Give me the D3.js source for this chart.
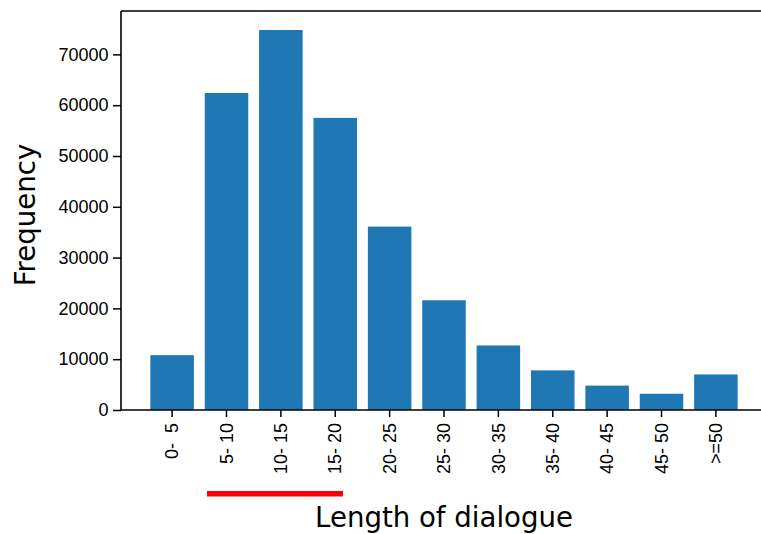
<!DOCTYPE html>
<html>
<head>
<meta charset="utf-8">
<script src="https://cdn.jsdelivr.net/npm/d3@7"></script>
<style>
  body { margin: 0; background: #fff; }
  svg { font-family: "DejaVu Sans", sans-serif; }
  .tick text { fill: #000; }
</style>
</head>
<body>
<div id="chart"></div>
<script>
// bins of dialogue length and how many dialogues fall in each
const categories = [' 0-  5', ' 5- 10', '10- 15', '15- 20', '20- 25', '25- 30',
  '30- 35', '35- 40', '40- 45', '45- 50', '>=50'];
const counts = [10800, 62400, 74800, 57500, 36100, 21600, 12700, 7800, 4800, 3200, 7000];
const yTicks = [0, 10000, 20000, 30000, 40000, 50000, 60000, 70000];

const width = 761, height = 534;
const margin = { top: 11, right: -6, bottom: 124, left: 121 };
const innerW = width - margin.left - margin.right;
const innerH = height - margin.top - margin.bottom;

const svg = d3.select('#chart').append('svg')
  .attr('width', width)
  .attr('height', height);

const g = svg.append('g')
  .attr('transform', `translate(${margin.left},${margin.top})`);

const x = d3.scaleBand()
  .domain(categories)
  .range([0, innerW])
  .paddingInner(0.2)
  .paddingOuter(0.54);

const y = d3.scaleLinear()
  .domain([0, d3.max(counts) * 1.05])
  .range([innerH, 0]);

// bars
g.selectAll('.bar')
  .data(categories.map((c, i) => ({ cat: c, count: counts[i] })))
  .enter().append('rect')
  .attr('class', 'bar')
  .attr('x', d => x(d.cat))
  .attr('y', d => y(d.count))
  .attr('width', x.bandwidth())
  .attr('height', d => innerH - y(d.count))
  .style('fill', '#1f77b4');

// axes
const yAxis = d3.axisLeft(y).tickValues(yTicks).tickFormat(d3.format('d'))
  .tickSize(8).tickPadding(4.5);
g.append('g').attr('class', 'yAxis').call(yAxis)
  .call(s => s.select('.domain').remove())
  .call(s => s.selectAll('text').style('font-size', '18px'))
  .call(s => s.selectAll('line').attr('stroke', '#000').attr('stroke-width', 1.5));

const xAxis = d3.axisBottom(x).tickSize(7);
g.append('g').attr('class', 'xAxis')
  .attr('transform', `translate(0,${innerH})`)
  .call(xAxis)
  .call(s => s.select('.domain').remove())
  .call(s => s.selectAll('line').attr('stroke', '#000').attr('stroke-width', 1.5))
  .call(s => s.selectAll('text')
    .style('font-size', '18px')
    .style('white-space', 'pre')
    .attr('text-anchor', 'end')
    .attr('transform', 'rotate(-90)')
    .attr('x', -13)
    .attr('y', 0)
    .attr('dy', '0.34em'));

// spines (left, top, bottom; right one falls outside the window)
const spine = g.append('g').attr('stroke', '#000').attr('stroke-width', 1.6).attr('fill', 'none');
spine.append('line').attr('x1', 0).attr('x2', 0).attr('y1', 0).attr('y2', innerH);
spine.append('line').attr('x1', 0).attr('x2', innerW).attr('y1', 0).attr('y2', 0);
spine.append('line').attr('x1', 0).attr('x2', innerW).attr('y1', innerH).attr('y2', innerH);

// axis labels
svg.append('text')
  .attr('transform', `translate(35,215) rotate(-90)`)
  .attr('text-anchor', 'middle')
  .style('font-size', '27.6px')
  .style('fill', '#000')
  .text('Frequency');

svg.append('text')
  .attr('x', margin.left + innerW / 2)
  .attr('y', 527)
  .attr('text-anchor', 'middle')
  .style('font-size', '27.6px')
  .style('fill', '#000')
  .text('Length of dialogue');

// red underline annotation below the 5-20 bins
svg.append('rect')
  .attr('x', 207).attr('y', 491)
  .attr('width', 136).attr('height', 5.5)
  .style('fill', '#ff0000');
</script>
</body>
</html>
